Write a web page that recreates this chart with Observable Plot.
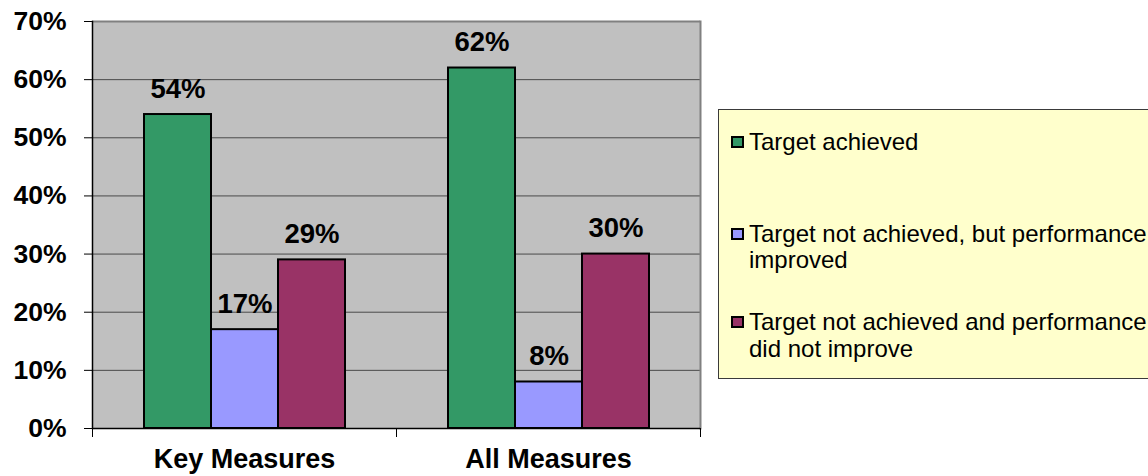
<!DOCTYPE html>
<html>
<head>
<meta charset="utf-8">
<script src="https://cdn.jsdelivr.net/npm/d3@7"></script>
<script src="https://cdn.jsdelivr.net/npm/@observablehq/plot@0.6"></script>
<style>
  html, body { margin: 0; padding: 0; background: #ffffff; overflow: hidden; }
  body { width: 1148px; height: 476px; position: relative; font-family: "Liberation Sans", Arial, sans-serif; }
  #chart { position: absolute; left: 0; top: 0; }
  #legend { position: absolute; left: 718px; top: 109px; width: 460px; height: 270px; box-sizing: border-box;
            background: #FFFFCC; border: 1px solid #3a3a3a; }
  .item { position: absolute; left: 30px; font-size: 24px; line-height: 26.7px; color: #000; white-space: nowrap; }
  .swatch { position: absolute; left: -18px; top: 7px; width: 13px; height: 12px; box-sizing: border-box; border: 2px solid #000; }
</style>
</head>
<body>
<div id="chart"></div>
<div id="legend"></div>
<script>
// ---- data ----
const groups = ["Key Measures", "All Measures"];
const series = [
  "Target achieved",
  "Target not achieved, but performance improved",
  "Target not achieved and performance did not improve"
];
const legendLines = [
  ["Target achieved"],
  ["Target not achieved, but performance", "improved"],
  ["Target not achieved and performance", "did not improve"]
];
const keyMeasures = [0.54, 0.17, 0.29];
const allMeasures = [0.62, 0.08, 0.30];
const colors = ["#339966", "#9999FF", "#993366"];
const yTicks = [0, 0.1, 0.2, 0.3, 0.4, 0.5, 0.6, 0.7];

const table = [];
[keyMeasures, allMeasures].forEach((vals, gi) => {
  vals.forEach((v, si) => table.push({group: groups[gi], series: series[si], value: v}));
});

const pct = d3.format(".0%");
const font = "Liberation Sans, Arial, sans-serif";

const chart = Plot.plot({
  width: 1148,
  height: 476,
  marginLeft: 92,
  marginRight: 448,
  marginTop: 21,
  marginBottom: 48,
  style: {fontFamily: font, background: "transparent", overflow: "visible"},
  fx: {domain: groups, padding: 0, label: null},
  x: {domain: series, paddingInner: 0, paddingOuter: 0.75, axis: null},
  y: {domain: [0, 0.7], label: null},
  color: {domain: series, range: colors},
  marks: [
    Plot.frame({fill: "#C0C0C0", facet: "super"}),
    Plot.ruleY(yTicks.slice(1, -1), {stroke: "#4a4a4a", strokeWidth: 1}),
    Plot.ruleY([0.7], {stroke: "#808080", strokeWidth: 2}),
    Plot.frame({anchor: "right", facet: "super", stroke: "#808080", strokeWidth: 2}),
    // category boundary ticks below the x axis
    Plot.frame({anchor: "left", stroke: "#000", strokeWidth: 1, insetTop: 407, insetBottom: -8}),
    Plot.frame({anchor: "right", facet: "super", stroke: "#000", strokeWidth: 1, insetTop: 407, insetBottom: -8}),
    Plot.frame({anchor: "left", facet: "super", stroke: "#000", strokeWidth: 1.5}),
    Plot.barY(table, {fx: "group", x: "series", y: "value", fill: "series", stroke: "#000", strokeWidth: 2}),
    Plot.ruleY([0], {stroke: "#000", strokeWidth: 1.5}),
    Plot.text(table, {fx: "group", x: "series", y: "value", text: d => pct(d.value),
      lineAnchor: "bottom", dy: -17, fontSize: 27.5, fontWeight: "bold", fill: "#000"}),
    Plot.axisY(yTicks, {tickFormat: pct, tickSize: 8, tickPadding: 18, fontSize: 26.5, fontWeight: "bold",
      fill: "#000", stroke: "#000", label: null}),
    Plot.axisFx({anchor: "bottom", tickSize: 0, tickPadding: 20, fontSize: 27, fontWeight: "bold",
      fill: "#000", label: null})
  ]
});
document.getElementById("chart").appendChild(chart);

// ---- legend ----
const legend = document.getElementById("legend");
const tops = [19, 110.5, 199];
legendLines.forEach((lines, i) => {
  const item = document.createElement("div");
  item.className = "item";
  item.style.top = tops[i] + "px";
  item.innerHTML = lines.join("<br>");
  const sw = document.createElement("span");
  sw.className = "swatch";
  sw.style.background = colors[i];
  item.appendChild(sw);
  legend.appendChild(item);
});
</script>
</body>
</html>
